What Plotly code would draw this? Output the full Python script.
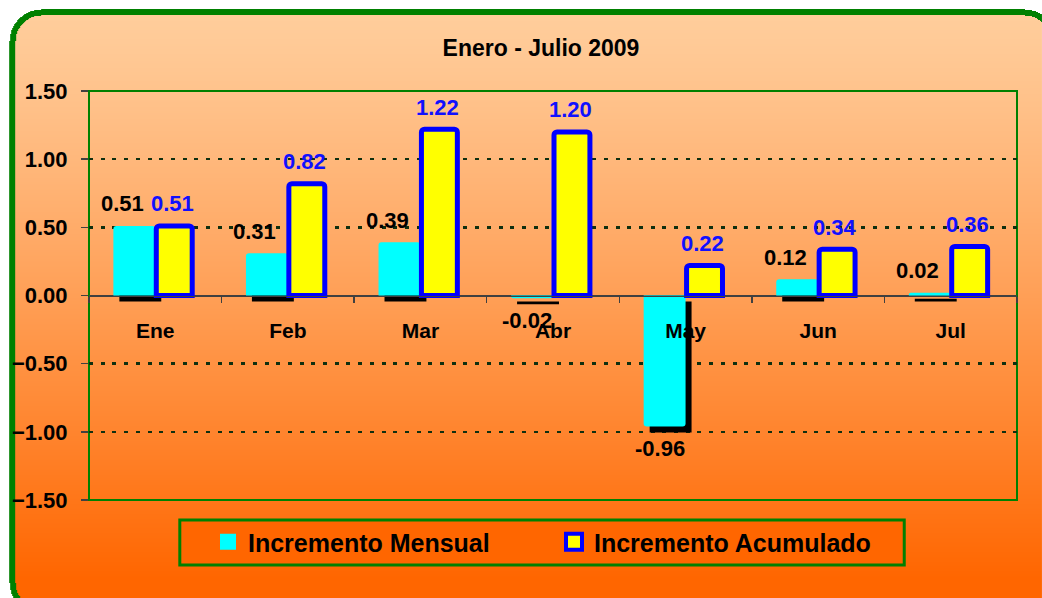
import base64
import struct
import zlib

import numpy as np
import plotly.graph_objects as go

# ---------------- data ----------------
categorias = ["Ene", "Feb", "Mar", "Abr", "May", "Jun", "Jul"]
incremento_mensual = [0.51, 0.31, 0.39, -0.02, -0.96, 0.12, 0.02]
incremento_acumulado = [0.51, 0.82, 1.22, 1.20, 0.22, 0.34, 0.36]
y_ticks = [-1.5, -1.0, -0.5, 0.0, 0.5, 1.0, 1.5]
titulo = "Enero - Julio 2009"
nombre_mensual = "Incremento Mensual"
nombre_acumulado = "Incremento Acumulado"

# ---------------- geometry (pixels) ----------------
W, H = 1042, 598
ML, MR, MT, MB = 87, 25, 91, 98
PW, PH = W - ML - MR, H - MT - MB
XU = PW / 7.0          # px per category
YU = PH / 3.0          # px per y unit
FONT = "Liberation Sans, Arial, sans-serif"


def background_uri():
    ys, xs = np.mgrid[0:H, 0:W]
    ys = ys.astype(float)
    xs = xs.astype(float)

    def rrect(x0, y0, x1, y1, r):
        cx = np.clip(xs, x0 + r, x1 - r)
        cy = np.clip(ys, y0 + r, y1 - r)
        return (((xs - cx) ** 2 + (ys - cy) ** 2) <= r * r) & (xs >= x0) & (xs <= x1) & (ys >= y0) & (ys <= y1)

    outer = rrect(7, 9, 1056, 614, 32)
    inner = rrect(13, 15, 1050, 608, 26)
    t = np.clip((ys - 20) / (580 - 20), 0, 1) ** 1.15
    t = t[..., None]
    top = np.array([255, 205, 155], float)
    bot = np.array([255, 102, 0], float)
    grad = top + (bot - top) * t
    img = np.full((H, W, 3), 255, np.uint8)
    img[outer] = (0, 128, 0)
    img[inner] = grad[inner].astype(np.uint8)
    raw = b"".join(b"\x00" + img[r].tobytes() for r in range(H))

    def chunk(tag, data):
        return struct.pack(">I", len(data)) + tag + data + struct.pack(">I", zlib.crc32(tag + data) & 0xFFFFFFFF)

    png = (b"\x89PNG\r\n\x1a\n"
           + chunk(b"IHDR", struct.pack(">IIBBBBB", W, H, 8, 2, 0, 0, 0))
           + chunk(b"IDAT", zlib.compress(raw, 9))
           + chunk(b"IEND", b""))
    return "data:image/png;base64," + base64.b64encode(png).decode()


CYAN_W = 42 / XU
YEL_W = 36 / XU
SH_DX, SH_DY = 6, 6

fig = go.Figure()

# shadow of the monthly bars
fig.add_trace(go.Bar(
    x=categorias, y=incremento_mensual, base=-SH_DY / YU,
    offset=-CYAN_W + SH_DX / XU, width=CYAN_W,
    marker=dict(color="#000000", line=dict(width=0)),
    showlegend=False, hoverinfo="skip"))

fig.add_trace(go.Bar(
    x=categorias, y=incremento_mensual, offset=-CYAN_W, width=CYAN_W,
    marker=dict(color="#00FFFF", line=dict(width=0), cornerradius=3),
    showlegend=False, hoverinfo="skip"))

fig.add_trace(go.Bar(
    x=categorias, y=incremento_acumulado, offset=1 / XU, width=YEL_W,
    marker=dict(color="#FFFF00", line=dict(color="#0000FF", width=5), cornerradius=3),
    showlegend=False, hoverinfo="skip"))

# legend entries
fig.add_trace(go.Scatter(
    x=[None], y=[None], mode="markers", name="<b>" + nombre_mensual + "</b>",
    marker=dict(symbol="square", size=20, color="#00FFFF", line=dict(width=0))))
fig.add_trace(go.Scatter(
    x=[None], y=[None], mode="markers", name="<b>" + nombre_acumulado + "</b>",
    marker=dict(symbol="square", size=20, color="#FFFF00", line=dict(color="#0000FF", width=4))))

annotations = []
for cat, v in zip(categorias, incremento_mensual):
    annotations.append(dict(
        x=cat, y=v, xref="x", yref="y", text="<b>%.2f</b>" % v, showarrow=False,
        xshift=-33 if v >= 0 else -26, yshift=22 if v >= 0 else -22,
        font=dict(family=FONT, size=22, color="#000000")))
for cat, v in zip(categorias, incremento_acumulado):
    annotations.append(dict(
        x=cat, y=v, xref="x", yref="y", text="<b>%.2f</b>" % v, showarrow=False,
        xshift=17, yshift=22,
        font=dict(family=FONT, size=22, color="#1010FF")))

shapes = [
    # plot frame
    dict(type="rect", xref="paper", yref="paper", x0=0, x1=1, y0=0, y1=1,
         line=dict(color="#008000", width=2), layer="below"),
    # legend box
    dict(type="rect", xref="paper", yref="paper",
         x0=(178 - ML) / PW, x1=(904 - ML) / PW,
         y0=(H - MB - 565) / PH, y1=(H - MB - 520) / PH,
         fillcolor="#FF6600", line=dict(color="#008000", width=3), layer="below"),
]

fig.update_layout(
    width=W, height=H,
    margin=dict(l=ML, r=MR, t=MT, b=MB, pad=0),
    paper_bgcolor="#FFFFFF", plot_bgcolor="rgba(0,0,0,0)",
    font=dict(family=FONT, color="#000000"),
    barmode="overlay",
    hovermode=False,
    title=dict(text="<b>" + titulo + "</b>", x=541 / W, xref="container", xanchor="center",
               y=1 - 48 / H, yref="container", yanchor="middle",
               font=dict(family=FONT, size=23, color="#000000")),
    images=[dict(source=background_uri(), xref="paper", yref="paper",
                 x=-ML / PW, y=1 + MT / PH, sizex=W / PW, sizey=H / PH,
                 xanchor="left", yanchor="top", sizing="stretch", layer="below")],
    shapes=shapes,
    annotations=annotations,
    legend=dict(orientation="h", x=(553 - ML) / PW, y=(H - MB - 542) / PH,
                xanchor="center", yanchor="middle", bgcolor="rgba(0,0,0,0)",
                borderwidth=0, font=dict(family=FONT, size=25, color="#000000"),
                entrywidth=301, entrywidthmode="pixels", itemsizing="trace"),
    xaxis=dict(type="category", categoryorder="array", categoryarray=categorias,
               range=[-0.5, 6.5], anchor="free", position=0.5,
               showline=True, linecolor="#404040", linewidth=1.5,
               ticks="outside", tickson="boundaries", ticklen=6, tickwidth=1.5,
               tickcolor="#404040", showgrid=False, zeroline=False,
               ticklabelstandoff=16,
               tickfont=dict(family=FONT, size=21, color="#000000", weight="bold")),
    yaxis=dict(range=[-1.5, 1.5], tickvals=y_ticks, tickformat=".2f",
               ticks="outside", ticklen=7, tickwidth=1.5, tickcolor="#404040",
               showgrid=True, gridcolor="#0F2F0F", gridwidth=2.5, griddash="4px,7.7px",
               zeroline=True, zerolinecolor="#404040", zerolinewidth=1.5,
               showline=False, ticklabelstandoff=9,
               tickfont=dict(family=FONT, size=22, color="#000000", weight="bold")),
)

fig.write_html("out.html", config={"displayModeBar": False, "staticPlot": True},
               post_script="document.documentElement.style.overflow='hidden';"
                           "document.body.style.margin='0';document.body.style.overflow='hidden';")
